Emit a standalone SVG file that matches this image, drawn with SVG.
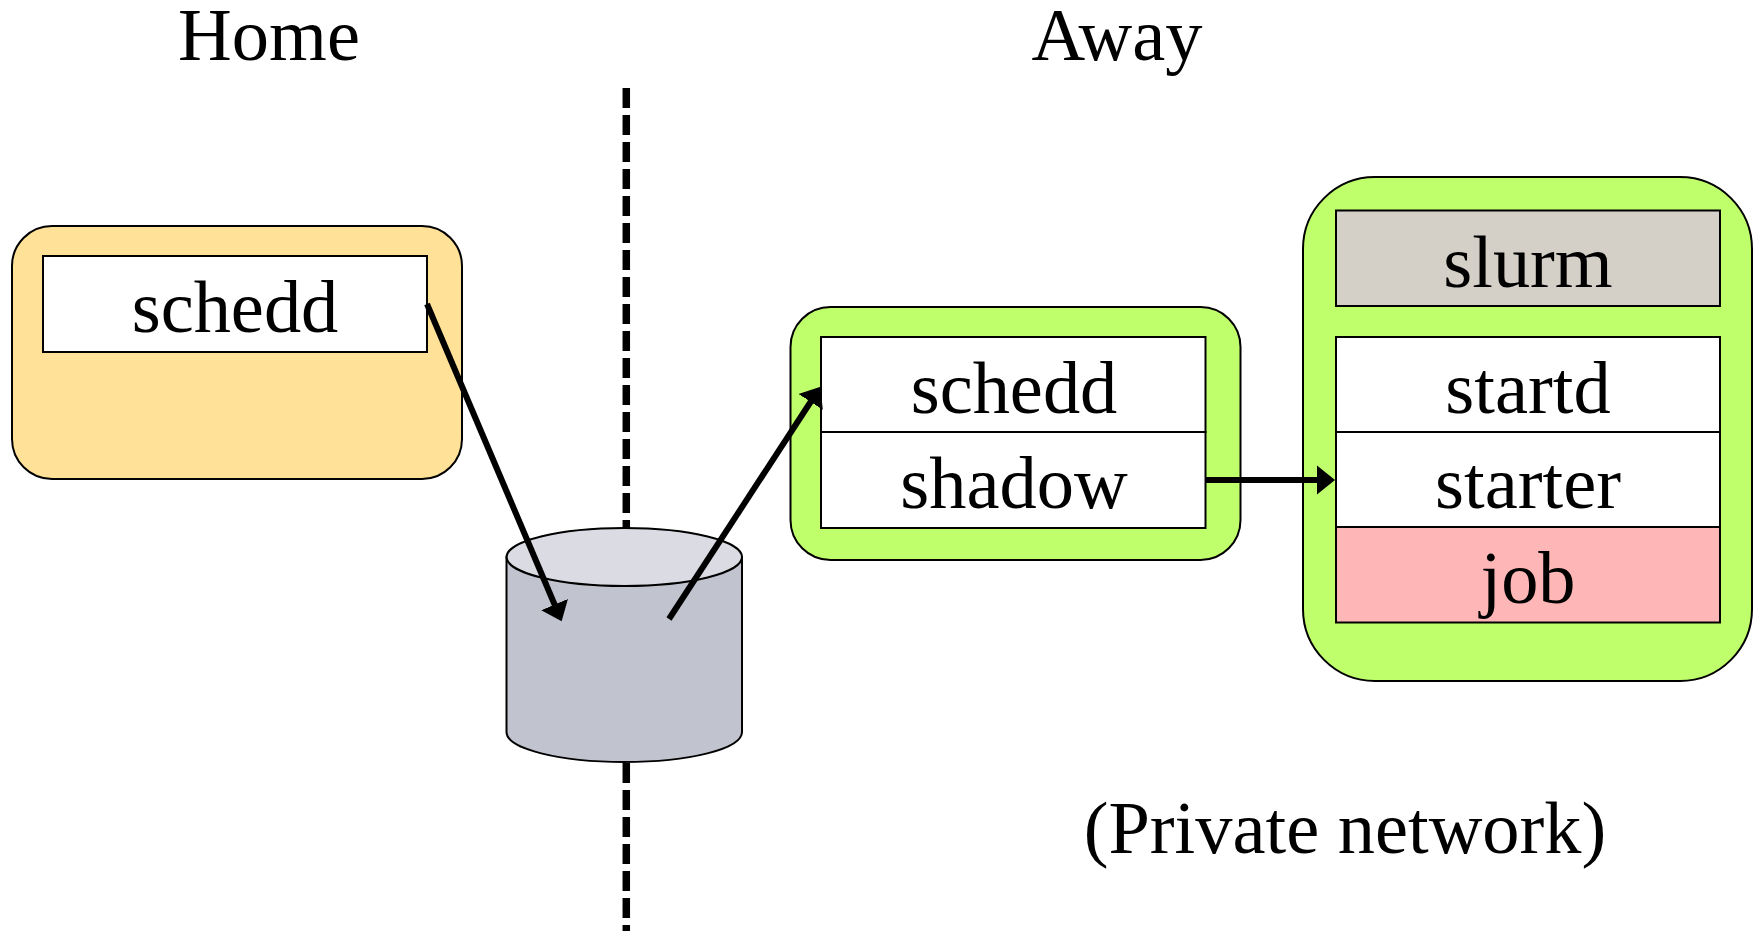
<svg xmlns="http://www.w3.org/2000/svg" width="1758" height="931" viewBox="0 0 1758 931">
<defs>
<marker id="a" markerUnits="userSpaceOnUse" markerWidth="19" markerHeight="30" refX="1" refY="15" orient="auto"><path d="M0 0.500L18 15L0 29.500Z" fill="#000"/></marker>
</defs>
<style>
text{font-family:"Liberation Serif","Times New Roman",serif;font-size:74.400px;text-anchor:middle;fill:#000}
.box{stroke:#000;stroke-width:2}
.w{fill:#fff}
.c{fill:none;stroke:#000;stroke-width:6}
</style>
<rect width="1758" height="931" fill="#fff"/>
<text x="269" y="59.500">Home</text>
<text x="1117" y="59.500">Away</text>
<text x="1345" y="853">(Private network)</text>
<path id="divider" d="M626.300 88V931" fill="none" stroke="#000" stroke-width="7.500" stroke-dasharray="20 7"/>
<g id="home"><rect class="box" x="12" y="226" width="450" height="253" rx="40" fill="#ffe198"/><rect class="box w" x="43" y="256" width="384" height="96"/><text x="235" y="332">schedd</text></g>
<g id="storage"><path class="box" d="M506.500 557V732C506.500 749 560 762 624 762C689 762 742 749 742 732V557Z" fill="#c1c3ce"/><ellipse class="box" cx="624.300" cy="557" rx="117.700" ry="29" fill="#dadbe3"/></g>
<g id="away"><rect class="box" x="790.500" y="307" width="450" height="253" rx="40" fill="#c0ff6c"/><rect class="box w" x="821" y="337" width="384.500" height="95"/><rect class="box w" x="821" y="432" width="384.500" height="96"/><text x="1014" y="413">schedd</text><text x="1014" y="508">shadow</text></g>
<g id="exec"><rect class="box" x="1303" y="177" width="449" height="504" rx="72" fill="#c0ff6c"/><rect class="box" x="1336" y="210.500" width="384" height="95.500" fill="#d4d0c8"/><rect class="box w" x="1336" y="337" width="384" height="95"/><rect class="box w" x="1336" y="432" width="384" height="95"/><rect class="box" x="1336" y="527" width="384" height="95.500" fill="#ffb6b6"/><text x="1528" y="287">slurm</text><text x="1528" y="413">startd</text><text x="1528" y="508">starter</text><text x="1528" y="603">job</text></g>
<g id="connectors"><path class="c" d="M427 304L555 605.500" marker-end="url(#a)"/><path class="c" d="M669 619L811.200 401" marker-end="url(#a)"/><path class="c" d="M1206 480H1318" marker-end="url(#a)"/></g>
</svg>
